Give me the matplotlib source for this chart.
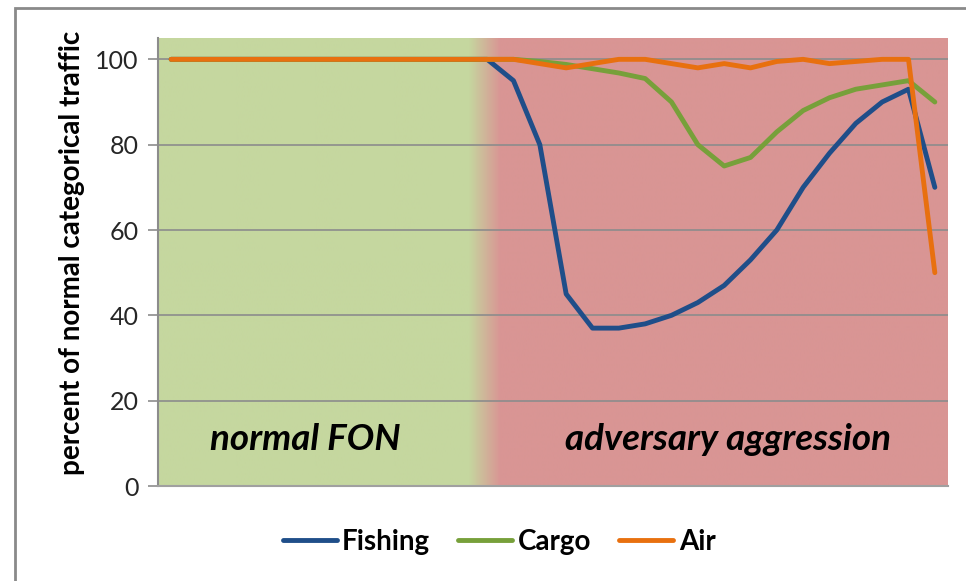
import numpy as np
import matplotlib
matplotlib.use("Agg")
import matplotlib.pyplot as plt
from matplotlib.lines import Line2D
from matplotlib.patches import Rectangle

plt.rcParams['font.family'] = ['Lato', 'DejaVu Sans']

# ---- data (percent of normal traffic, 30 time steps) ----
steps = list(range(30))
fishing = [100]*13 + [95, 80, 45, 37, 37, 38, 40, 43, 47, 53, 60, 70, 78, 85, 90, 93, 70]
cargo = [100]*14 + [99.5, 98.8, 97.8, 96.8, 95.5, 90, 80, 75, 77, 83, 88, 91, 93, 94, 95, 90]
air = [100]*14 + [99, 98, 99, 100, 100, 99, 98, 99, 98, 99.5, 100, 99, 99.5, 100, 100, 50]
series_names = ["Fishing", "Cargo", "Air"]
series_colors = ["#1F4E89", "#77A03A", "#E8700F"]
yticks = [0, 20, 40, 60, 80, 100]
region_labels = ["normal FON", "adversary aggression"]

W, H = 966, 581
fig = plt.figure(figsize=(W/100, H/100), dpi=100)
ax = fig.add_axes([158/W, 1-486/H, (948-158)/W, (486-38)/H])

xmin, xmax = -0.5, 29.5
ymin, ymax = 0, 105

# background gradient: green -> red
green = np.array([197, 215, 159])/255
red = np.array([217, 149, 148])/255
xs = np.linspace(xmin, xmax, 800)
t0, t1 = 11.3, 12.5
frac = np.clip((xs - t0)/(t1 - t0), 0, 1)
img = (green[None, :]*(1-frac[:, None]) + red[None, :]*frac[:, None])[None, :, :]
ax.imshow(img, extent=[xmin, xmax, ymin, ymax], aspect='auto', zorder=0, interpolation='bilinear')

for v in yticks[1:]:
    ax.axhline(v, color="#8c8c8c", lw=1.2, zorder=1)

for vals, name, col in zip([fishing, cargo, air], series_names, series_colors):
    ax.plot(steps, vals, color=col, lw=3.5, label=name, zorder=3,
            solid_joinstyle='round', solid_capstyle='round')

ax.set_xlim(xmin, xmax)
ax.set_ylim(ymin, ymax)
ax.set_yticks(yticks)
ax.set_yticklabels([str(v) for v in yticks], fontsize=18, color="#262626")
ax.tick_params(axis='y', length=7, width=1.2, color="#8c8c8c", pad=7)
ax.set_xticks([])
for s in ["top", "right"]:
    ax.spines[s].set_visible(False)
ax.spines["left"].set_color("#8c8c8c")
ax.spines["left"].set_linewidth(1.5)
ax.spines["bottom"].set_color("#a0a0a0")
ax.spines["bottom"].set_linewidth(1.5)

ax.set_ylabel("percent of normal categorical traffic", fontsize=20, fontweight='bold')
ax.yaxis.set_label_coords(-0.093, 0.52)

ax.text(5.1, 10.8, region_labels[0], fontsize=26.5, fontweight='bold', style='italic',
        ha='center', va='center', color='black', zorder=4)
ax.text(21.15, 10.8, region_labels[1], fontsize=26.5, fontweight='bold', style='italic',
        ha='center', va='center', color='black', zorder=4)

handles = [Line2D([0], [0], color=c, lw=3.5, solid_capstyle='round') for c in series_colors]
fig.legend(handles, series_names, loc='center', bbox_to_anchor=(499/W, 1-542/H),
           ncol=3, frameon=False, prop={'weight': 'bold', 'size': 20},
           handlelength=1.95, handletextpad=0.2, columnspacing=1.0)

# outer chart border
fig.patches.append(Rectangle((15/W, -0.1), 1.2, 1-8/H+0.1, transform=fig.transFigure,
                             fill=False, edgecolor="#8a8a8a", lw=2))

fig.savefig("out.png", dpi=100)
